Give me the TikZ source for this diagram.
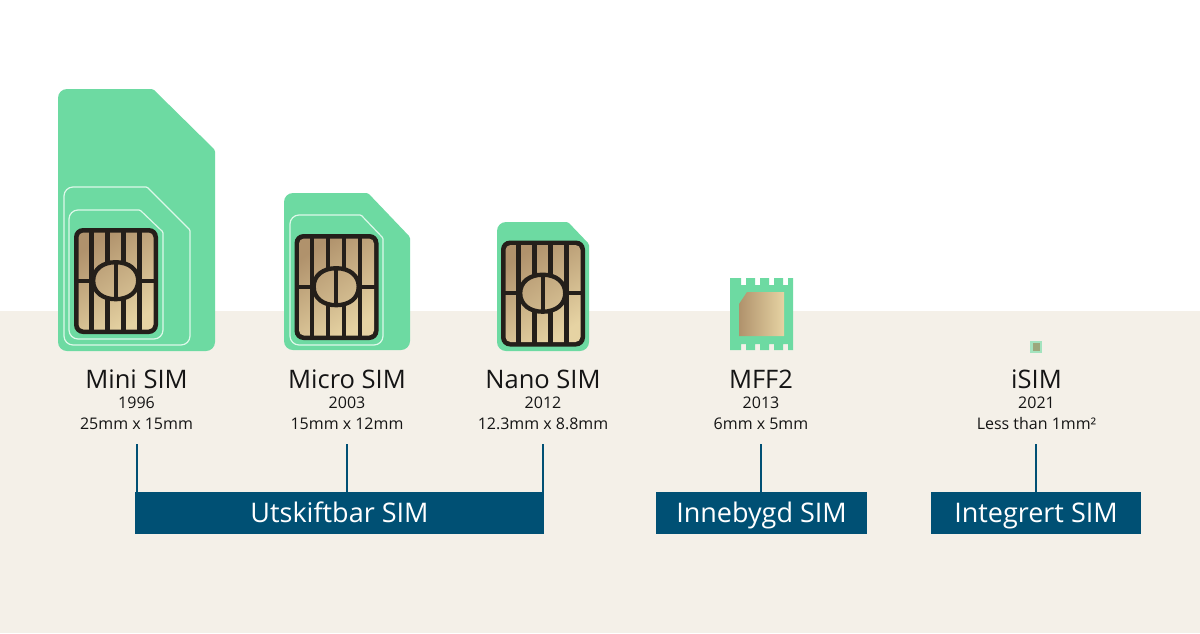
\documentclass[tikz,border=0pt]{standalone}
\usepackage{fontspec}
\setmainfont{Open Sans}
\usetikzlibrary{arrows.meta}
\definecolor{simgreen}{HTML}{6DDAA2}
\definecolor{simline}{HTML}{DDF8E9}
\definecolor{simbeige}{HTML}{F4F0E8}
\definecolor{simdark}{HTML}{241F1A}
\definecolor{simnavy}{HTML}{005074}
\definecolor{golddark}{HTML}{B0926C}
\definecolor{goldlight}{HTML}{E6D3A3}
\definecolor{simtext}{HTML}{151515}

\begin{document}
\begin{tikzpicture}[
    x=1pt, y=-1pt,
    every node/.style={text=simtext, inner sep=0pt, anchor=base},
    namelabel/.style={font=\fontsize{25.5}{26}\selectfont},
    sublabel/.style={font=\fontsize{16}{16}\selectfont},
    groupbar/.style={fill=simnavy, text=white, minimum height=42pt, text height=19pt, text depth=0pt, font=\fontsize{27}{27}\selectfont, anchor=center},
    tick/.style={draw=simnavy, line width=2pt},
    outline/.style={draw=simline, line width=1.2pt},
    chipline/.style={draw=simdark, line width=4.3pt},
    chipgold/.style={top color=golddark, bottom color=goldlight, shading angle=35},
    ovalgold/.style={top color=golddark!75!goldlight, bottom color=golddark!35!goldlight, shading angle=35}
]
\useasboundingbox (0,0) rectangle (1200,633);

% Background
\fill[white] (0,0) rectangle (1200,311);
\fill[simbeige] (0,311) rectangle (1200,633);

% Mini SIM
\fill[simgreen, rounded corners=9pt] (58,351) -- (58,89) [rounded corners=1.5pt] -- (153,89) -- (215,150) [rounded corners=9pt] -- (215,351) -- cycle;
\draw[outline, rounded corners=9pt] (64,345) -- (64,187) [rounded corners=1pt] -- (147,187) -- (190,230) [rounded corners=9pt] -- (190,345) -- cycle;
\draw[outline, rounded corners=9pt] (69,339) -- (69,210) [rounded corners=1pt] -- (140,210) -- (163,232) [rounded corners=9pt] -- (163,339) -- cycle;

% Micro SIM
\fill[simgreen, rounded corners=9pt] (284,350) -- (284,193) [rounded corners=1.5pt] -- (368,193) -- (410,237) [rounded corners=9pt] -- (410,350) -- cycle;
\draw[outline, rounded corners=9pt] (290,345) -- (290,215) [rounded corners=1pt] -- (361,215) -- (383,238) [rounded corners=9pt] -- (383,345) -- cycle;

% Nano SIM
\fill[simgreen, rounded corners=9pt] (497,351) -- (497,222) [rounded corners=1.5pt] -- (568,222) -- (589,244) [rounded corners=9pt] -- (589,351) -- cycle;

% Chips
\foreach \cx/\cy in {74/228, 294.5/234, 501/240.5} {
\begin{scope}[shift={(\cx,\cy)}]
    \fill[simdark, rounded corners=9pt] (0,0) rectangle (84,106);
    \shade[chipgold, rounded corners=5pt] (4.5,4.5) rectangle (79.5,101.5);
    \foreach \bx in {17.5,65.5}
        \draw[chipline] (\bx,3) -- (\bx,103);
    \foreach \bx in {33.6,49.6} {
        \draw[chipline] (\bx,3) -- (\bx,40);
        \draw[chipline] (\bx,66) -- (\bx,103);
    }
    \draw[chipline] (3,52.7) -- (81,52.7);
    \draw[chipline, ovalgold] (41.7,34.2) .. controls (55,34.2) and (64.2,41.5) .. (64.2,52.7)
        .. controls (64.2,63.9) and (55,71.2) .. (41.7,71.2)
        .. controls (28.4,71.2) and (19.2,63.9) .. (19.2,52.7)
        .. controls (19.2,41.5) and (28.4,34.2) .. cycle;
    \draw[chipline] (41.7,34) -- (41.7,71);
\end{scope}
}

% MFF2
\fill[simgreen] (730,278) -- (741,278) -- (741,285) -- (746,285) -- (746,278) -- (755,278) -- (755,285) -- (760,285) -- (760,278) -- (769,278) -- (769,285) -- (774,285) -- (774,278) -- (783,278) -- (783,285) -- (788,285) -- (788,278) -- (793,278)
    -- (793,350) -- (788,350) -- (788,344) -- (783,344) -- (783,350) -- (774,350) -- (774,344) -- (769,344) -- (769,350) -- (760,350) -- (760,344) -- (755,344) -- (755,350) -- (746,350) -- (746,344) -- (741,344) -- (741,350) -- (730,350) -- cycle;
\shade[left color=golddark, right color=goldlight] (739,304) -- (747,292) -- (784,292) -- (784,336) -- (739,336) -- cycle;

% iSIM
\fill[simgreen!60!simbeige] (1030,341) rectangle (1042,353);
\fill[golddark!70!simgreen] (1033,343) rectangle (1040,351);

% Labels
\foreach \key/\lname/\lyear/\lsize/\lx in {
    mini/Mini SIM/1996/25mm x 15mm/136.5,
    micro/Micro SIM/2003/15mm x 12mm/347,
    nano/Nano SIM/2012/12.3mm x 8.8mm/543,
    mff/MFF2/2013/6mm x 5mm/761,
    isim/iSIM/2021/Less than 1mm²/1036.5
} {
    \node[namelabel] (\key name) at (\lx,388) {\lname};
    \node[sublabel] (\key year) at (\lx,408) {\lyear};
    \node[sublabel] (\key size) at (\lx,429) {\lsize};
}

% Group bars
\node[groupbar, minimum width=409pt] (swap) at (339.5,513) {Utskiftbar SIM};
\node[groupbar, minimum width=211pt] (embedded) at (761.5,513) {Innebygd SIM};
\node[groupbar, minimum width=210pt] (integrated) at (1036,513) {Integrert SIM};

% Ticks
\coordinate (minitop) at (136.5,444);
\coordinate (microtop) at (347,444);
\coordinate (nanotop) at (543,444);
\coordinate (mfftop) at (761,444);
\coordinate (isimtop) at (1036,444);
\draw[tick] (minitop) -- (minitop |- swap.north);
\draw[tick] (microtop) -- (microtop |- swap.north);
\draw[tick] (nanotop) -- (nanotop |- swap.north);
\draw[tick] (mfftop) -- (mfftop |- embedded.north);
\draw[tick] (isimtop) -- (isimtop |- integrated.north);
\end{tikzpicture}
\end{document}
